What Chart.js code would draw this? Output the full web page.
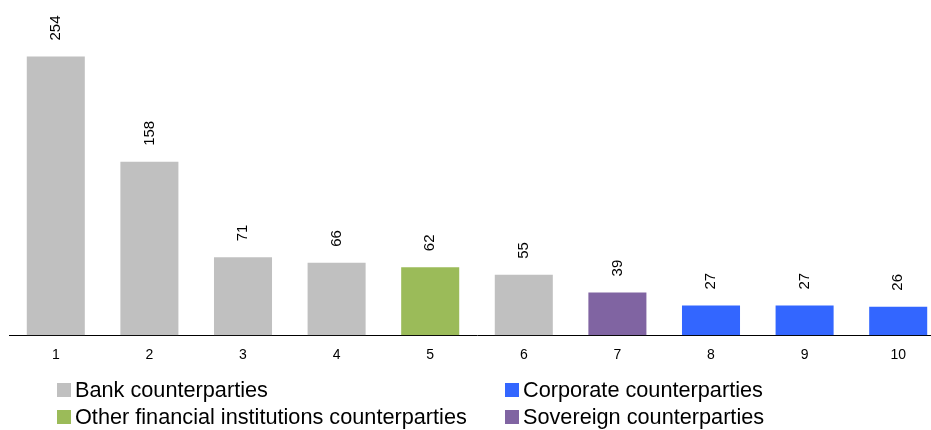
<!DOCTYPE html>
<html>
<head>
<meta charset="utf-8">
<script src="https://cdn.jsdelivr.net/npm/chart.js"></script>
<style>
  html, body { margin: 0; padding: 0; background: #fff; overflow: hidden; }
  #wrap { position: relative; width: 945px; height: 430px; }
  #legend { position: absolute; left: 0; top: 0; width: 931px; height: 430px; pointer-events: none;
            font-family: "Liberation Sans", Arial, sans-serif; font-size: 21.7px; color: #000; }
  .item { position: absolute; display: flex; align-items: center; white-space: nowrap; }
  .sw { width: 14px; height: 14px; margin-right: 4px; }
</style>
</head>
<body>
<div id="wrap">
  <canvas id="chart" width="945" height="430"></canvas>
  <div id="legend"></div>
</div>
<script>
// Data
const categories = ['1', '2', '3', '4', '5', '6', '7', '8', '9', '10'];
const values = [254, 158, 71, 66, 62, 55, 39, 27, 27, 26];
const barGroups = ['bank', 'bank', 'bank', 'bank', 'other', 'bank', 'sovereign', 'corporate', 'corporate', 'corporate'];

const groupNames = ['bank', 'corporate', 'other', 'sovereign'];
const groupLabels = ['Bank counterparties', 'Corporate counterparties', 'Other financial institutions counterparties', 'Sovereign counterparties'];
const groupColors = ['#c0c0c0', '#3366ff', '#9bbb59', '#8064a2'];

function colorOf(group) {
  return groupColors[groupNames.indexOf(group)];
}

// Rotated value labels above each bar
const valueLabels = {
  id: 'valueLabels',
  afterDatasetsDraw(chart) {
    const ctx = chart.ctx;
    const meta = chart.getDatasetMeta(0);
    ctx.save();
    ctx.font = '15px "Liberation Sans", Arial, sans-serif';
    ctx.fillStyle = '#000';
    ctx.textAlign = 'left';
    ctx.textBaseline = 'middle';
    meta.data.forEach((bar, i) => {
      ctx.save();
      ctx.translate(bar.x, bar.y - 16);
      ctx.rotate(-Math.PI / 2);
      ctx.fillText(String(values[i]), 0, 0);
      ctx.restore();
    });
    ctx.restore();
  }
};

new Chart(document.getElementById('chart'), {
  type: 'bar',
  data: {
    labels: categories,
    datasets: [{
      data: values,
      backgroundColor: barGroups.map(colorOf),
      borderWidth: 0,
      barPercentage: 0.62,
      categoryPercentage: 1
    }]
  },
  options: {
    responsive: false,
    animation: false,
    layout: { padding: { left: 9, right: 0, top: 6, bottom: 62 } },
    plugins: {
      legend: { display: false },
      tooltip: { enabled: false }
    },
    scales: {
      x: {
        grid: { display: false },
        border: { display: true, color: '#000', width: 1 },
        ticks: {
          color: '#000',
          padding: 4,
          font: { family: '"Liberation Sans", Arial, sans-serif', size: 14 }
        }
      },
      y: {
        display: false,
        min: 0,
        max: 300
      }
    }
  },
  plugins: [valueLabels]
});

// Legend in two columns
const legendPos = [[57, 390], [505, 390], [57, 417], [505, 417]];
const legendOrder = ['bank', 'corporate', 'other', 'sovereign'];
const legendEl = document.getElementById('legend');
legendOrder.forEach((g, i) => {
  const k = groupNames.indexOf(g);
  const item = document.createElement('div');
  item.className = 'item';
  item.style.left = legendPos[i][0] + 'px';
  item.style.top = (legendPos[i][1] - 13) + 'px';
  item.style.height = '26px';
  const sw = document.createElement('span');
  sw.className = 'sw';
  sw.style.background = groupColors[k];
  const txt = document.createElement('span');
  txt.textContent = groupLabels[k];
  item.appendChild(sw);
  item.appendChild(txt);
  legendEl.appendChild(item);
});
</script>
</body>
</html>
